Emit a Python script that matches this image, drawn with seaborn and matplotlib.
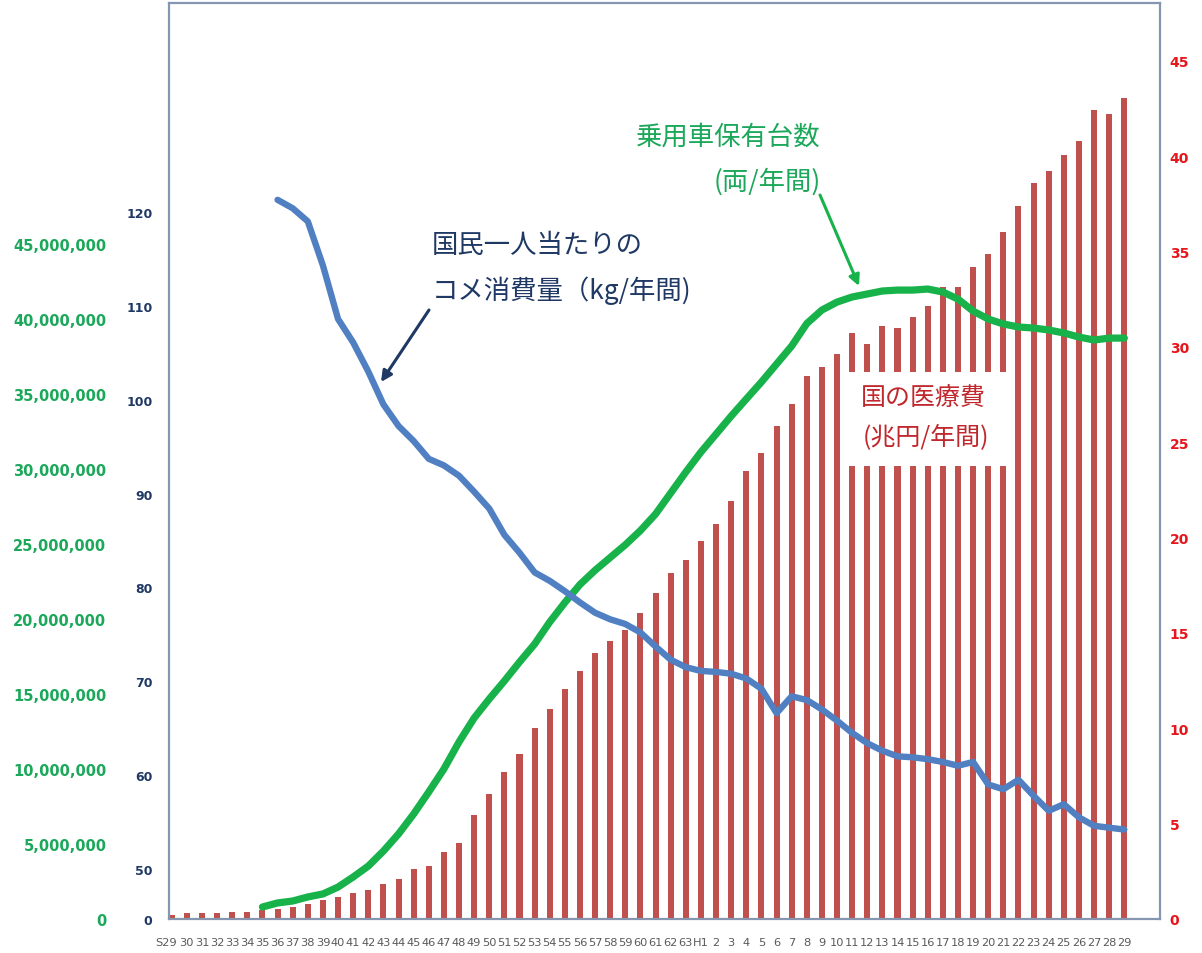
import numpy as np
import pandas as pd
import matplotlib
matplotlib.use("Agg")
import matplotlib.pyplot as plt
from matplotlib import font_manager
from matplotlib.patches import Rectangle
from matplotlib.transforms import ScaledTranslation
import seaborn as sns

# ---------------- data ----------------
years = list(range(1954, 2018))
x_labels = (["S29"] + [str(y - 1925) for y in range(1955, 1989)]
            + ["H1"] + [str(y - 1988) for y in range(1990, 2018)])

medical = [0.23, 0.3, 0.3, 0.3, 0.38, 0.38, 0.49, 0.54, 0.63, 0.77,
           1.0, 1.14, 1.37, 1.54, 1.82, 2.12, 2.6, 2.8, 3.49, 4.0,
           5.46, 6.58, 7.72, 8.63, 10.04, 11.0, 12.05, 12.98, 13.93, 14.6,
           15.14, 16.04, 17.1, 18.14, 18.8, 19.8, 20.7, 21.9, 23.5, 24.45,
           25.86, 26.98, 28.48, 28.95, 29.62, 30.72, 30.14, 31.11, 30.97, 31.58,
           32.16, 33.16, 33.16, 34.2, 34.87, 36.0, 37.4, 38.6, 39.2, 40.06,
           40.8, 42.4, 42.2, 43.07]

car_years = list(range(1960, 2018))
cars = [800000, 1070000, 1200000, 1470000, 1670000, 2130000, 2800000, 3530000,
        4530000, 5670000, 7000000, 8470000, 10000000, 11800000,
        13400000, 14670000, 15870000, 17130000, 18330000, 19800000, 21100000,
        22300000, 23250000, 24100000,
        24950000, 25900000, 27000000, 28400000, 29800000, 31130000, 32330000,
        33530000, 34670000, 35800000,
        37000000, 38200000, 39700000, 40600000, 41130000, 41470000, 41670000,
        41870000, 41930000, 41930000,
        42000000, 41800000, 41330000, 40530000, 40000000, 39670000, 39470000,
        39400000, 39270000, 39070000,
        38800000, 38600000, 38730000, 38730000]

rice_years = list(range(1961, 2018))
rice = [121.3, 120.4, 119.0, 114.3, 108.6, 106.1, 103.0, 99.5, 97.2, 95.6, 93.7, 93.0, 91.9,
        90.2, 88.4, 85.6, 83.7, 81.6, 80.7, 79.6, 78.4, 77.3, 76.6,
        76.1, 75.2, 73.7, 72.3, 71.5, 71.1, 71.0, 70.8, 70.3, 69.2,
        66.6, 68.4, 68.0, 67.0, 65.8, 64.5, 63.4, 62.6, 62.0, 61.9,
        61.7, 61.4, 61.0, 61.4, 59.0, 58.5, 59.5, 57.8, 56.2, 56.9,
        55.5, 54.6, 54.4, 54.2]

red_ticks = [0, 5, 10, 15, 20, 25, 30, 35, 40, 45]
green_ticks = [0, 5000000, 10000000, 15000000, 20000000, 25000000,
               30000000, 35000000, 40000000, 45000000]
blue_ticks = [44.7, 50, 60, 70, 80, 90, 100, 110, 120]
blue_tick_labels = ["0", "50", "60", "70", "80", "90", "100", "110", "120"]

# ---------------- style ----------------
sns.set_style("white")
plt.rcParams["font.family"] = ["DejaVu Sans"]
JP = ["Noto Sans CJK JP", "DejaVu Sans"]

names = {f.name for f in font_manager.fontManager.ttflist}
if "Liberation Sans Narrow" in names:
    xfont, xsize = "Liberation Sans Narrow", 10.5
else:
    xfont, xsize = "DejaVu Sans", 8.2

BAR = "#C0504D"
RED = "#E5161C"
GREEN_LINE = "#17B24A"
GREEN_TXT = "#1CA85A"
BLUE_LINE = "#5080C2"
NAVY = "#1F3864"
SPINE = "#8496B0"

W, H = 1202, 954
L, R, T, B = 169, 1160, 4, 920
fig = plt.figure(figsize=(W / 100, H / 100), dpi=100)
fig.patch.set_facecolor("white")
ax = fig.add_axes([L / W, (H - B) / H, (R - L) / W, (B - T) / H])


def P(px, py):
    return ((px - L) / (R - L), (B - py) / (B - T))


# bars (medical costs) – right axis
df_bar = pd.DataFrame({"year": years, "cost": medical})
sns.barplot(data=df_bar, x="year", y="cost", ax=ax, color=BAR,
            saturation=1, width=0.4, linewidth=0, zorder=2)

ax_g = ax.twinx()
ax_b = ax.twinx()

car_pos = [y - years[0] for y in car_years]
rice_pos = [y - years[0] for y in rice_years]

sns.lineplot(x=car_pos, y=cars, ax=ax_g, color=GREEN_LINE, linewidth=5.2,
             solid_capstyle="round", solid_joinstyle="round")
sns.lineplot(x=rice_pos, y=rice, ax=ax_b, color=BLUE_LINE, linewidth=4.6,
             solid_capstyle="round", solid_joinstyle="round")

# ---- axes limits ----
ax.set_xlim(-0.18, 65.36)
ax.set_ylim(0, 48.03)
ax_g.set_ylim(0, 61.07e6)
ax_b.set_ylim(44.67, 142.27)

# ---- x axis ----
ax.set_xticks(range(len(years)))
ax.set_xticklabels(x_labels, fontfamily=xfont, fontsize=xsize, color="#595959")
ax.tick_params(axis="x", length=0, pad=13)
ax.set_xlabel("")

# ---- right red axis ----
ax.yaxis.tick_right()
ax.set_yticks(red_ticks)
ax.set_yticklabels([str(v) for v in red_ticks], fontsize=10, fontweight="bold", color=RED)
ax.tick_params(axis="y", length=0, pad=7)
ax.set_ylabel("")

# ---- left green axis ----
ax_g.yaxis.tick_left()
ax_g.set_yticks(green_ticks)
ax_g.set_yticklabels([f"{v:,}" for v in green_ticks], fontsize=10.5,
                     fontweight="bold", color=GREEN_TXT)
ax_g.tick_params(axis="y", length=0, pad=45)
ax_g.set_ylabel("")

# ---- left blue axis ----
ax_b.yaxis.tick_left()
ax_b.set_yticks(blue_ticks)
ax_b.set_yticklabels(blue_tick_labels, fontsize=9, fontweight="bold", color=NAVY)
ax_b.tick_params(axis="y", length=0, pad=12)
ax_b.set_ylabel("")

for s in ax.spines.values():
    s.set_visible(True)
    s.set_color(SPINE)
    s.set_linewidth(1.6)
for a in (ax_g, ax_b):
    for s in a.spines.values():
        s.set_visible(False)

# ---- annotations ----
# rice
ax_b.text(*P(432, 245), "国民一人当たりの", transform=ax_b.transAxes,
          ha="left", va="center", fontsize=19, color=NAVY, family=JP)
ax_b.text(*P(432, 291), "コメ消費量（kg/年間)", transform=ax_b.transAxes,
          ha="left", va="center", fontsize=19, color=NAVY, family=JP)
ax_b.annotate("", xy=P(381, 383), xytext=P(429, 311),
              xycoords="axes fraction", textcoords="axes fraction",
              arrowprops=dict(arrowstyle="-|>", color=NAVY, lw=2.2,
                              mutation_scale=16, shrinkA=0, shrinkB=0))

# cars
ax_b.text(*P(821, 137), "乗用車保有台数", transform=ax_b.transAxes,
          ha="right", va="center", fontsize=19, color=GREEN_TXT, family=JP)
ax_b.text(*P(821, 182), "(両/年間)", transform=ax_b.transAxes,
          ha="right", va="center", fontsize=19, color=GREEN_TXT, family=JP)
ax_b.annotate("", xy=P(859, 287), xytext=P(820, 196),
              xycoords="axes fraction", textcoords="axes fraction",
              arrowprops=dict(arrowstyle="-|>", color=GREEN_LINE, lw=2.2,
                              mutation_scale=16, shrinkA=0, shrinkB=0))

# medical costs
x0, y0 = P(847, 467)
x1, y1 = P(1008, 373)
ax.add_patch(Rectangle((x0, y0), x1 - x0, y1 - y0, transform=ax.transAxes,
                       facecolor="white", edgecolor="none", zorder=5))
ax.text(*P(923, 398), "国の医療費", transform=ax.transAxes, ha="center",
        va="center", fontsize=18, color="#C0282D", family=JP, zorder=6)
ax.text(*P(926, 438), "(兆円/年間)", transform=ax.transAxes, ha="center",
        va="center", fontsize=18, color="#C0282D", family=JP, zorder=6)

# nudge first x label left so it does not collide with its neighbour
first = ax.get_xticklabels()[0]
first.set_transform(first.get_transform() + ScaledTranslation(-6 / 100, 0, fig.dpi_scale_trans))

fig.savefig("out.png", dpi=100, facecolor="white")
